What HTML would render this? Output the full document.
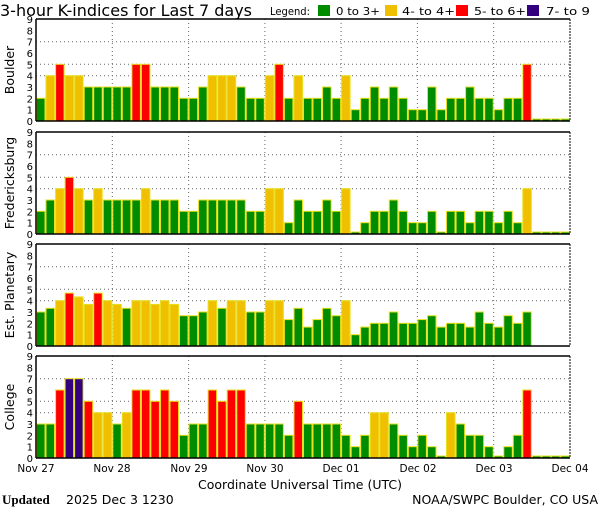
<!DOCTYPE html>
<html><head><meta charset="utf-8"><style>
html,body{margin:0;padding:0;background:#fff;width:600px;height:510px;overflow:hidden}
svg{display:block}
text{font-family:"DejaVu Sans","Liberation Sans",sans-serif;fill:#000}
</style></head><body>
<svg id="s" width="600" height="510" xmlns="http://www.w3.org/2000/svg">
<text x="0" y="16" font-size="16" textLength="252" lengthAdjust="spacingAndGlyphs">3-hour K-indices for Last 7 days</text>
<text x="270" y="15" font-size="10.5" textLength="40" lengthAdjust="spacingAndGlyphs">Legend:</text>
<rect x="318" y="5" width="12" height="11" fill="#008c00"/><text x="336" y="15" font-size="11" textLength="44" lengthAdjust="spacingAndGlyphs">0 to 3+</text>
<rect x="385" y="5" width="12" height="11" fill="#f0c000"/><text x="402" y="15" font-size="11" textLength="53" lengthAdjust="spacingAndGlyphs">4- to 4+</text>
<rect x="456" y="5" width="12" height="11" fill="#ff0000"/><text x="474" y="15" font-size="11" textLength="52" lengthAdjust="spacingAndGlyphs">5- to 6+</text>
<rect x="527" y="5" width="12" height="11" fill="#330080"/><text x="546" y="15" font-size="11" textLength="44" lengthAdjust="spacingAndGlyphs">7- to 9</text>
<g id="g"></g>
<g font-size="10.5" text-anchor="middle">
<text x="36" y="472">Nov 27</text><text x="112" y="472">Nov 28</text><text x="189" y="472">Nov 29</text><text x="265" y="472">Nov 30</text>
<text x="341" y="472">Dec 01</text><text x="418" y="472">Dec 02</text><text x="494" y="472">Dec 03</text><text x="570" y="472">Dec 04</text>
</g>
<text x="300" y="489" font-size="12.5" text-anchor="middle">Coordinate Universal Time (UTC)</text>
<text x="2" y="504" font-size="13" style="font-family:'Liberation Serif',serif;font-weight:bold">Updated</text>
<text x="66" y="504" font-size="12.5">2025 Dec  3 1230</text>
<text x="598" y="504" font-size="12.5" text-anchor="end">NOAA/SWPC Boulder, CO USA</text>
</svg>
<script>
var P=[
{n:"Boulder",t:19,v:[2,4,5,4,4,3,3,3,3,3,5,5,3,3,3,2,2,3,4,4,4,3,2,2,4,5,2,4,2,2,3,2,4,1,2,3,2,3,2,1,1,3,1,2,2,3,2,2,1,2,2,5,-1,-1,-1,-1]},
{n:"Fredericksburg",t:132,v:[2,3,4,5,4,3,4,3,3,3,3,4,3,3,3,2,2,3,3,3,3,3,2,2,4,4,1,3,2,2,3,2,4,0,1,2,2,3,2,1,1,2,0,2,2,1,2,2,1,2,1,4,-1,-1,-1,-1]},
{n:"Est. Planetary",t:244,v:[3,3.33,4,4.67,4.33,3.67,4.67,4,3.67,3.33,4,4,3.67,4,3.67,2.67,2.67,3,4,3.33,4,4,3,3,4,4,2.33,3.33,1.67,2.33,3.33,2.67,4,1,1.67,2,2,3,2,2,2.33,2.67,1.67,2,2,1.67,3,2,1.67,2.67,2,3,-2,-2,-2,-2]},
{n:"College",t:356,v:[3,3,6,7,7,5,4,4,3,4,6,6,5,6,5,2,3,3,6,5,6,6,3,3,3,3,2,5,3,3,3,3,2,1,2,4,4,3,2,1,2,1,0,4,3,2,2,1,0,1,2,6,-1,-1,-1,-1]}];
var g=document.getElementById("g"),h="",x0=36,x1=570,w=(x1-x0)/56,H=102,u=H/9;
function col(k){return k>=6.6?"#330080":k>=4.6?"#ff0000":k>=3.6?"#f0c000":"#008c00";}
P.forEach(function(p){
 var t=p.t,b=t+H;
 [4,5,7].forEach(function(k){var y=(b-k*u).toFixed(1);h+='<line x1="'+x0+'" x2="'+x1+'" y1="'+y+'" y2="'+y+'" stroke="#666" stroke-dasharray="1,3"/>';});
 for(var d=1;d<7;d++){var x=(x0+d*8*w).toFixed(1);h+='<line x1="'+x+'" x2="'+x+'" y1="'+t+'" y2="'+b+'" stroke="#666" stroke-dasharray="1,3"/>';}
 p.v.forEach(function(k,i){
  if(k==-2)return;
  var x=x0+i*w,hh=k<0?2:Math.max(k*u,2),c=k<0?"#008c00":col(k);
  h+='<rect x="'+(x+0.5).toFixed(1)+'" y="'+(b-hh).toFixed(1)+'" width="'+(w-1).toFixed(1)+'" height="'+hh.toFixed(1)+'" fill="'+c+'" stroke="#e8e020" stroke-width="1"/>';
 });
 h+='<line x1="'+x0+'" x2="'+x1+'" y1="'+t+'" y2="'+t+'" stroke="#000" stroke-width="1.5"/>';
 h+='<line x1="'+x0+'" x2="'+x1+'" y1="'+b+'" y2="'+b+'" stroke="#000" stroke-width="1.5"/>';
 h+='<line x1="'+x0+'" x2="'+x0+'" y1="'+t+'" y2="'+b+'" stroke="#000" stroke-width="1.5"/>';
 h+='<line x1="'+x1+'" x2="'+x1+'" y1="'+t+'" y2="'+b+'" stroke="#000" stroke-width="1" stroke-dasharray="2,1"/>';
 for(var k=0;k<=9;k++){h+='<text x="33" y="'+(b-k*u+4).toFixed(1)+'" font-size="10" text-anchor="end">'+k+'</text>';}
 var cy=t+H/2;
 h+='<text x="14" y="'+cy+'" font-size="12.5" text-anchor="middle" transform="rotate(-90 14 '+cy+')">'+p.n+'</text>';
});
g.innerHTML=h;
</script>
</body></html>
